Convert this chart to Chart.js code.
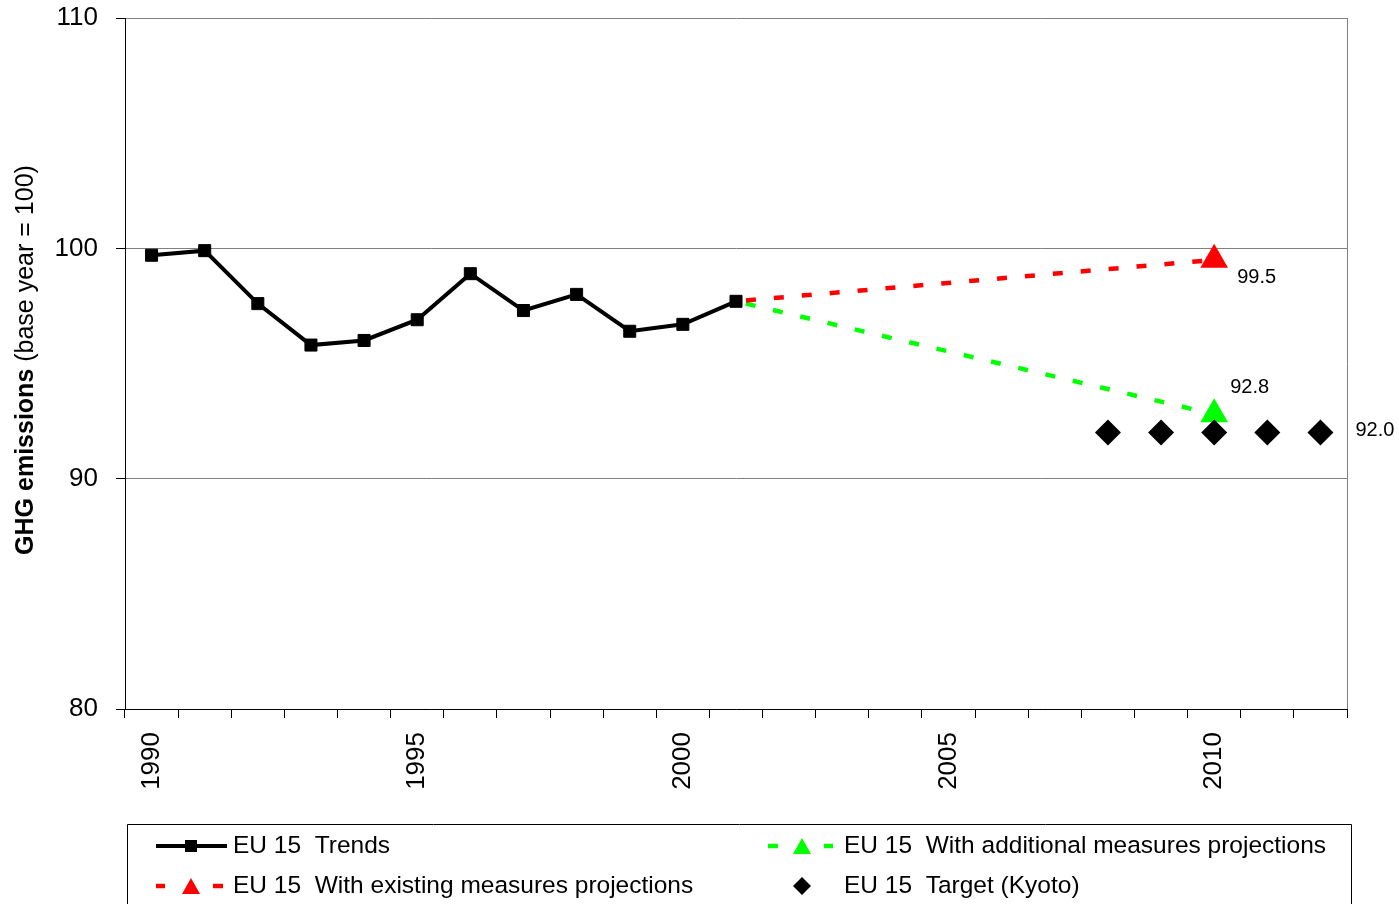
<!DOCTYPE html>
<html>
<head>
<meta charset="utf-8">
<title>EU 15 GHG emissions</title>
<script src="https://cdn.jsdelivr.net/npm/chart.js@4.4.1/dist/chart.umd.min.js"></script>
<style>
  html, body { margin: 0; padding: 0; background: #ffffff; }
  canvas { display: block; }
</style>
</head>
<body>
<canvas id="ghg" width="1399" height="904"></canvas>
<script>
// Years on the category axis
const years = [1990, 1991, 1992, 1993, 1994, 1995, 1996, 1997, 1998, 1999, 2000, 2001,
               2002, 2003, 2004, 2005, 2006, 2007, 2008, 2009, 2010, 2011, 2012];

// Index values (base year = 100)
const trends = [99.7, 99.9, 97.6, 95.8, 96.0, 96.9, 98.9, 97.3, 98.0, 96.4, 96.7, 97.7,
                null, null, null, null, null, null, null, null, null, null, null];
const existingMeasures = [null, null, null, null, null, null, null, null, null, null, null, 97.7,
                          null, null, null, null, null, null, null, null, 99.5, null, null];
const additionalMeasures = [null, null, null, null, null, null, null, null, null, null, null, 97.7,
                            null, null, null, null, null, null, null, null, 92.8, null, null];
const kyotoTarget = [null, null, null, null, null, null, null, null, null, null, null, null,
                     null, null, null, null, null, null, 92.0, 92.0, 92.0, 92.0, 92.0];

const yTicks = [80, 90, 100, 110];
const seriesLabels = [
  'EU 15  Trends',
  'EU 15  With existing measures projections',
  'EU 15  With additional measures projections',
  'EU 15  Target (Kyoto)'
];

const FONT = '"Liberation Sans", Arial, Helvetica, sans-serif';
const RED = '#ff0000';
const GREEN = '#00ff00';

// marker only on the projection end year
const endMarker = r => ctx => (years[ctx.dataIndex] === 2010 ? r : 0);

// --- small shape helpers used by the legend ---
function triangle(ctx, x, y, w, h, color) {
  ctx.beginPath();
  ctx.moveTo(x, y - h / 2);
  ctx.lineTo(x + w / 2, y + h / 2);
  ctx.lineTo(x - w / 2, y + h / 2);
  ctx.closePath();
  ctx.fillStyle = color;
  ctx.fill();
}
function diamond(ctx, x, y, r, color) {
  ctx.beginPath();
  ctx.moveTo(x, y - r);
  ctx.lineTo(x + r, y);
  ctx.lineTo(x, y + r);
  ctx.lineTo(x - r, y);
  ctx.closePath();
  ctx.fillStyle = color;
  ctx.fill();
}
function hline(ctx, x1, x2, y, w, color) {
  ctx.beginPath();
  ctx.moveTo(x1, y);
  ctx.lineTo(x2, y);
  ctx.lineWidth = w;
  ctx.strokeStyle = color;
  ctx.setLineDash([]);
  ctx.stroke();
}

// Right-hand frame line of the plot area
const frameLine = {
  id: 'frameLine',
  afterDraw(chart) {
    const { ctx, chartArea: a } = chart;
    ctx.save();
    ctx.beginPath();
    ctx.moveTo(a.right + 0.5, a.top);
    ctx.lineTo(a.right + 0.5, a.bottom);
    ctx.lineWidth = 1;
    ctx.strokeStyle = '#808080';
    ctx.stroke();
    ctx.restore();
  }
};

// Rotated y-axis title with a bold lead
const yTitle = {
  id: 'yTitle',
  afterDraw(chart) {
    const ctx = chart.ctx;
    const boldPart = 'GHG emissions';
    const normalPart = ' (base year = 100)';
    const size = 25;
    ctx.save();
    ctx.translate(26, 360);
    ctx.rotate(-Math.PI / 2);
    ctx.textBaseline = 'middle';
    ctx.fillStyle = '#000';
    ctx.font = 'bold ' + size + 'px ' + FONT;
    const wb = ctx.measureText(boldPart).width;
    ctx.font = size + 'px ' + FONT;
    const wn = ctx.measureText(normalPart).width;
    const x = -(wb + wn) / 2;
    ctx.textAlign = 'left';
    ctx.font = 'bold ' + size + 'px ' + FONT;
    ctx.fillText(boldPart, x, 0);
    ctx.font = size + 'px ' + FONT;
    ctx.fillText(normalPart, x + wb, 0);
    ctx.restore();
  }
};

// Value labels next to the end-year projections and the target
const valueLabels = {
  id: 'valueLabels',
  afterDatasetsDraw(chart) {
    const ctx = chart.ctx;
    const xs = chart.scales.x, ys = chart.scales.y;
    const i2010 = years.indexOf(2010);
    const iLast = years.length - 1;
    const items = [
      { v: existingMeasures[i2010], i: i2010, dx: 23, dy: 18 },
      { v: additionalMeasures[i2010], i: i2010, dx: 16, dy: -27 },
      { v: kyotoTarget[iLast], i: iLast, dx: 35, dy: -2 }
    ];
    ctx.save();
    ctx.font = '20px ' + FONT;
    ctx.fillStyle = '#000';
    ctx.textAlign = 'left';
    ctx.textBaseline = 'middle';
    items.forEach(it => {
      const px = xs.getPixelForValue(it.i);
      const py = ys.getPixelForValue(it.v);
      ctx.fillText(it.v.toFixed(1), px + it.dx, py + it.dy);
    });
    ctx.restore();
  }
};

// Boxed two-column legend below the axis
const boxLegend = {
  id: 'boxLegend',
  afterDraw(chart) {
    const ctx = chart.ctx;
    ctx.save();
    ctx.beginPath();
    ctx.rect(127.5, 824.5, 1224, 100);
    ctx.lineWidth = 1;
    ctx.strokeStyle = '#000';
    ctx.stroke();

    const rows = [846, 886];
    const col1 = { sym: 191, text: 233 };
    const col2 = { sym: 802, text: 844 };

    // Trends
    hline(ctx, 156, 227, rows[0], 4, '#000');
    ctx.fillStyle = '#000';
    ctx.fillRect(col1.sym - 6, rows[0] - 6, 12, 12);
    // With existing measures
    hline(ctx, 156, 165, rows[1], 4.5, RED);
    triangle(ctx, col1.sym, rows[1], 18, 16, RED);
    hline(ctx, 213, 223, rows[1], 4.5, RED);
    // With additional measures
    hline(ctx, 768, 778, rows[0], 4.5, GREEN);
    triangle(ctx, col2.sym, rows[0], 18, 16, GREEN);
    hline(ctx, 824, 833, rows[0], 4.5, GREEN);
    // Target
    diamond(ctx, col2.sym, rows[1], 9, '#000');

    ctx.font = '24.5px ' + FONT;
    ctx.fillStyle = '#000';
    ctx.textAlign = 'left';
    ctx.textBaseline = 'middle';
    ctx.fillText(seriesLabels[0], col1.text, rows[0]);
    ctx.fillText(seriesLabels[1], col1.text, rows[1]);
    ctx.fillText(seriesLabels[2], col2.text, rows[0]);
    ctx.fillText(seriesLabels[3], col2.text, rows[1]);
    ctx.restore();
  }
};

new Chart(document.getElementById('ghg'), {
  type: 'line',
  data: {
    labels: years.map(String),
    datasets: [
      {
        label: seriesLabels[0],
        data: trends,
        order: 0,
        borderColor: '#000',
        backgroundColor: '#000',
        borderWidth: 4,
        pointStyle: 'rect',
        pointRadius: 8.5,
        pointBorderWidth: 1,
        pointBackgroundColor: '#000',
        pointBorderColor: '#000',
        tension: 0,
        spanGaps: false
      },
      {
        label: seriesLabels[1],
        data: existingMeasures,
        order: 2,
        borderColor: RED,
        backgroundColor: RED,
        borderWidth: 4.5,
        borderDash: [10, 18],
        borderDashOffset: 18,
        borderCapStyle: 'butt',
        pointStyle: 'triangle',
        pointRadius: endMarker(16),
        pointBorderWidth: 0,
        pointBackgroundColor: RED,
        spanGaps: true
      },
      {
        label: seriesLabels[2],
        data: additionalMeasures,
        order: 3,
        borderColor: GREEN,
        backgroundColor: GREEN,
        borderWidth: 4.5,
        borderDash: [10, 18],
        borderDashOffset: 18,
        borderCapStyle: 'butt',
        pointStyle: 'triangle',
        pointRadius: endMarker(16),
        pointBorderWidth: 0,
        pointBackgroundColor: GREEN,
        spanGaps: true
      },
      {
        label: seriesLabels[3],
        data: kyotoTarget,
        order: 1,
        showLine: false,
        borderColor: '#000',
        backgroundColor: '#000',
        pointStyle: 'rectRot',
        pointRadius: 13,
        pointBorderWidth: 0,
        pointBackgroundColor: '#000'
      }
    ]
  },
  options: {
    responsive: false,
    animation: false,
    events: [],
    layout: { padding: { top: 18, right: 52, left: 0, bottom: 0 } },
    plugins: {
      legend: { display: false },
      tooltip: { enabled: false },
      title: { display: false }
    },
    scales: {
      x: {
        type: 'category',
        offset: true,
        afterFit(scale) {
          scale.height = 195;
          scale.paddingLeft = 0;
          scale.paddingRight = 0;
        },
        grid: {
          offset: true,
          drawOnChartArea: false,
          drawTicks: true,
          tickLength: 9,
          tickColor: '#000',
          tickWidth: 1
        },
        border: { display: true, color: '#000', width: 1 },
        ticks: {
          autoSkip: false,
          maxRotation: 90,
          minRotation: 90,
          padding: 14,
          color: '#000',
          font: { family: FONT, size: 26 },
          callback(value, index) {
            return years[index] % 5 === 0 ? String(years[index]) : '';
          }
        }
      },
      y: {
        min: yTicks[0],
        max: yTicks[yTicks.length - 1],
        afterFit(scale) {
          scale.width = 125;
          scale.paddingTop = 0;
          scale.paddingBottom = 0;
        },
        afterBuildTicks(scale) { scale.ticks = yTicks.map(v => ({ value: v })); },
        grid: {
          color: '#808080',
          lineWidth: 1,
          tickLength: 9,
          tickColor: '#000',
          tickWidth: 1
        },
        border: { display: true, color: '#000', width: 1 },
        ticks: {
          padding: 18,
          color: '#000',
          font: { family: FONT, size: 26 },
          callback: v => String(v)
        }
      }
    }
  },
  plugins: [frameLine, yTitle, valueLabels, boxLegend]
});
</script>
</body>
</html>
